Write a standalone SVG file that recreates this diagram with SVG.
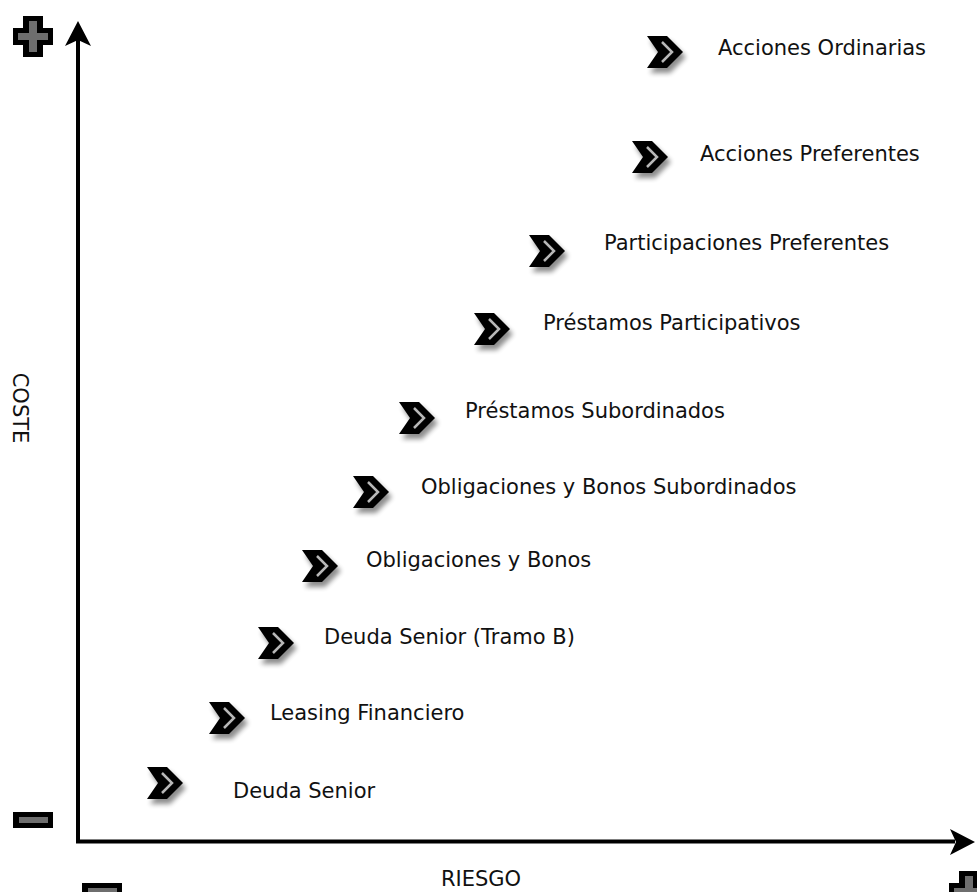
<svg xmlns="http://www.w3.org/2000/svg" width="977" height="892" viewBox="0 0 977 892">
<defs>
<style>
.lbl{font-family:"DejaVu Sans","Verdana",sans-serif;font-size:21px;fill:#111}
.axis{stroke:#000;stroke-width:4;fill:none}
.sym{fill:#000}
.symin{fill:#6e6e6e}
</style>
<filter id="sh" x="-30%" y="-30%" width="170%" height="170%">
<feGaussianBlur in="SourceAlpha" stdDeviation="2.5"/>
<feOffset dx="3" dy="5" result="b"/>
<feComponentTransfer><feFuncA type="linear" slope="0.45"/></feComponentTransfer>
<feMerge><feMergeNode/><feMergeNode in="SourceGraphic"/></feMerge>
</filter>
<g id="chev">
<polygon points="0,0 20,0 36,16 20,32 0,32 11,16" fill="#000" filter="url(#sh)"/>
<polyline points="15,6 25,16 15,26" fill="none" stroke="#b8b8b8" stroke-width="2.5"/>
</g>
<path id="plus" d="M10,0 H30 V12 H40 V29 H30 V41 H10 V29 H0 V12 H10 Z"/>
<path id="plusin" d="M16,5 H24 V17 H35 V24 H24 V36 H16 V24 H5 V17 H16 Z"/>
</defs>

<g id="connectors">
<line class="axis" x1="78" y1="843" x2="78" y2="40"/>
<polygon points="78,21 65,46 78,40 91,46" fill="#000"/>
<line class="axis" x1="76" y1="841.5" x2="955" y2="841.5"/>
<polygon points="975,842 950,829 956,842 950,855" fill="#000"/>
</g>

<g id="plus-top">
<use href="#plus" x="13" y="16" class="sym"/>
<use href="#plusin" x="13" y="16" class="symin"/>
</g>
<g id="minus-left">
<rect x="13" y="812" width="40" height="16" class="sym"/>
<rect x="19" y="817" width="29" height="6" class="symin"/>
</g>
<g id="minus-bottom">
<rect x="82" y="883" width="40" height="16" class="sym"/>
<rect x="88" y="888" width="29" height="6" class="symin"/>
</g>
<g id="plus-bottom">
<use href="#plus" x="949" y="871" class="sym"/>
<use href="#plusin" x="949" y="871" class="symin"/>
</g>

<g id="label-coste"><text class="lbl" text-anchor="middle" transform="translate(13,408) rotate(90)">COSTE</text></g>
<g id="label-riesgo"><text class="lbl" x="481" y="886" text-anchor="middle">RIESGO</text></g>

<g id="n1"><use href="#chev" x="647" y="36"/><text class="lbl" x="718" y="55">Acciones Ordinarias</text></g>
<g id="n2"><use href="#chev" x="632" y="141"/><text class="lbl" x="700" y="161">Acciones Preferentes</text></g>
<g id="n3"><use href="#chev" x="529" y="235"/><text class="lbl" x="604" y="250">Participaciones Preferentes</text></g>
<g id="n4"><use href="#chev" x="474" y="313"/><text class="lbl" x="543" y="330">Préstamos Participativos</text></g>
<g id="n5"><use href="#chev" x="399" y="402"/><text class="lbl" x="465" y="418">Préstamos Subordinados</text></g>
<g id="n6"><use href="#chev" x="353" y="476"/><text class="lbl" x="421" y="494">Obligaciones y Bonos Subordinados</text></g>
<g id="n7"><use href="#chev" x="302" y="550"/><text class="lbl" x="366" y="567">Obligaciones y Bonos</text></g>
<g id="n8"><use href="#chev" x="258" y="627"/><text class="lbl" x="324" y="644">Deuda Senior (Tramo B)</text></g>
<g id="n9"><use href="#chev" x="209" y="702"/><text class="lbl" x="270" y="720">Leasing Financiero</text></g>
<g id="n10"><use href="#chev" x="147" y="767"/><text class="lbl" x="233" y="798">Deuda Senior</text></g>
</svg>
